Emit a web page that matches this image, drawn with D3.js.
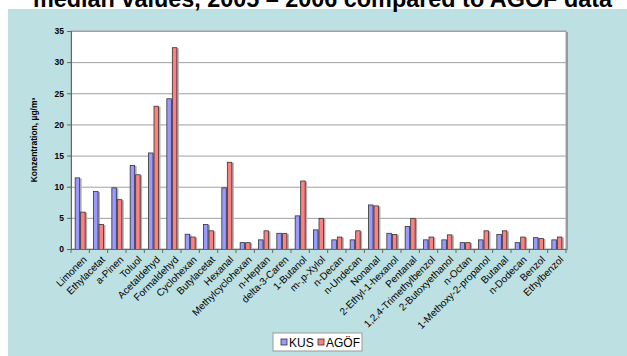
<!DOCTYPE html>
<html>
<head>
<meta charset="utf-8">
<script src="https://cdn.jsdelivr.net/npm/d3@7"></script>
<style>
  body { margin: 0; background: #fff; }
  svg { display: block; font-family: Arial, "Liberation Sans", sans-serif; }
</style>
</head>
<body>
<svg id="viz" width="627" height="356"></svg>
<script>
const categories = ['Limonen', 'Ethylacetat', 'a-Pinen', 'Toluol', 'Acetaldehyd', 'Formaldehyd',
  'Cyclohexan', 'Butylacetat', 'Hexanal', 'Methylcyclohexan', 'n-Heptan', 'delta-3-Caren',
  '1-Butanol', 'm-,p-Xylol', 'n-Decan', 'n-Undecan', 'Nonanal', '2-Ethyl-1-hexanol', 'Pentanal',
  '1,2,4-Trimethylbenzol', '2-Butoxyethanol', 'n-Octan', '1-Methoxy-2-propanol', 'Butanal',
  'n-Dodecan', 'Benzol', 'Ethylbenzol'];
const kus = [11.5, 9.3, 9.9, 13.5, 15.5, 24.2, 2.45, 4.0, 9.9, 1.1, 1.55, 2.6,
  5.4, 3.15, 1.55, 1.55, 7.15, 2.6, 3.7, 1.55, 1.55, 1.1, 1.55, 2.4, 1.1, 1.9, 1.55];
const agof = [6.0, 4.0, 8.0, 12.0, 23.0, 32.4, 2.0, 3.0, 14.0, 1.1, 3.0, 2.55,
  11.0, 5.0, 2.0, 3.0, 7.0, 2.4, 5.0, 2.0, 2.35, 1.1, 3.0, 3.0, 2.0, 1.75, 2.0];
const yTicks = [0, 5, 10, 15, 20, 25, 30, 35];
const seriesNames = ['KUS', 'AGÖF'];
const seriesColors = ['#9999ff', '#ff8080'];

const svg = d3.select('#viz');

// background panel
svg.append('rect').attr('x', 8).attr('y', 9).attr('width', 619).attr('height', 347).attr('fill', '#bde0e3');

// title (cut off at the top in the original too)
svg.append('text')
  .attr('x', 33).attr('y', 7)
  .attr('textLength', 579).attr('lengthAdjust', 'spacingAndGlyphs')
  .style('font-size', '24px').style('font-weight', 'bold')
  .text('median values, 2005 – 2006 compared to AGÖF data');

const margin = { left: 71, top: 31, right: 61, bottom: 107 };
const width = 627 - margin.left - margin.right;
const height = 356 - margin.top - margin.bottom;

const g = svg.append('g').attr('transform', 'translate(' + margin.left + ',' + margin.top + ')');

// SCALES
const x = d3.scaleBand().domain(categories).range([0, width]);
const y = d3.scaleLinear().domain([0, 35]).range([height, 0]);
const inner = d3.scaleBand().domain(seriesNames).range([x.bandwidth() * 0.2, x.bandwidth() * 0.8]);

// plot area
g.append('rect').attr('x', 2).attr('y', 1).attr('width', width).attr('height', height).attr('fill', '#999');
g.append('rect').attr('width', width).attr('height', height).attr('fill', '#fff').attr('stroke', '#a0a0a0');

// GRID
g.append('g').selectAll('line').data(yTicks.slice(1)).enter().append('line')
  .attr('x1', 0).attr('x2', width)
  .attr('y1', (d) => y(d) + 0.5).attr('y2', (d) => y(d) + 0.5)
  .attr('stroke', '#a0a0a0');

// BARS
const rows = categories.map((c, i) => ({ c: c, vals: [kus[i], agof[i]] }));
const grp = g.append('g').selectAll('g').data(rows).enter().append('g')
  .attr('transform', (d) => 'translate(' + x(d.c) + ',0)');
grp.selectAll('rect.shadow').data((d) => d.vals.map((v, k) => ({ v: v, k: k }))).enter().append('rect')
  .attr('x', (d) => inner(seriesNames[d.k]) + 1.5)
  .attr('y', (d) => y(d.v) + 1)
  .attr('width', inner.bandwidth())
  .attr('height', (d) => height - y(d.v) - 1)
  .attr('fill', '#b0b0b0');
grp.selectAll('rect.bar').data((d) => d.vals.map((v, k) => ({ v: v, k: k }))).enter().append('rect')
  .attr('x', (d) => inner(seriesNames[d.k]) + 0.5)
  .attr('y', (d) => y(d.v) + 0.5)
  .attr('width', inner.bandwidth() - 1)
  .attr('height', (d) => height - y(d.v))
  .attr('fill', (d) => seriesColors[d.k])
  .attr('stroke', '#333').attr('stroke-width', 0.8);

// AXES
const yAxis = g.append('g').call(d3.axisLeft(y).tickValues(yTicks).tickSize(4).tickPadding(3));
yAxis.select('.domain').attr('stroke', '#666');
yAxis.selectAll('.tick line').attr('stroke', '#666');
yAxis.selectAll('text').style('font-size', '8.5px').style('font-weight', 'bold').attr('fill', '#000');

const xAxis = g.append('g').attr('transform', 'translate(0,' + height + ')');
xAxis.append('line').attr('x1', 0).attr('x2', width).attr('y1', 0.5).attr('y2', 0.5).attr('stroke', '#666');
xAxis.selectAll('line.tk').data(d3.range(categories.length + 1)).enter().append('line')
  .attr('x1', (d) => d * x.step()).attr('x2', (d) => d * x.step())
  .attr('y1', 0).attr('y2', 4).attr('stroke', '#666');
xAxis.selectAll('text').data(categories).enter().append('text')
  .attr('transform', (d) => 'translate(' + (x(d) + x.bandwidth() / 2 + 3) + ',7) rotate(-45)')
  .attr('text-anchor', 'end')
  .attr('dy', '0.6em')
  .style('font-size', '10px')
  .text((d) => d);

// Y LABEL
svg.append('text')
  .attr('transform', 'translate(37,' + (margin.top + height / 2) + ') rotate(-90)')
  .attr('text-anchor', 'middle')
  .style('font-size', '8.5px').style('font-weight', 'bold')
  .text('Konzentration, µg/m³');

// LEGEND
const lg = svg.append('g').attr('transform', 'translate(273,333)');
lg.append('rect').attr('width', 89).attr('height', 18).attr('fill', '#fff').attr('stroke', '#999');
seriesNames.forEach((s, k) => {
  const ox = k === 0 ? 8 : 45;
  lg.append('rect').attr('x', ox).attr('y', 6).attr('width', 6).attr('height', 6)
    .attr('fill', seriesColors[k]).attr('stroke', '#333').attr('stroke-width', 0.8);
  lg.append('text').attr('x', ox + 8).attr('y', 13.5).style('font-size', '12px').text(s);
});
</script>
</body>
</html>
